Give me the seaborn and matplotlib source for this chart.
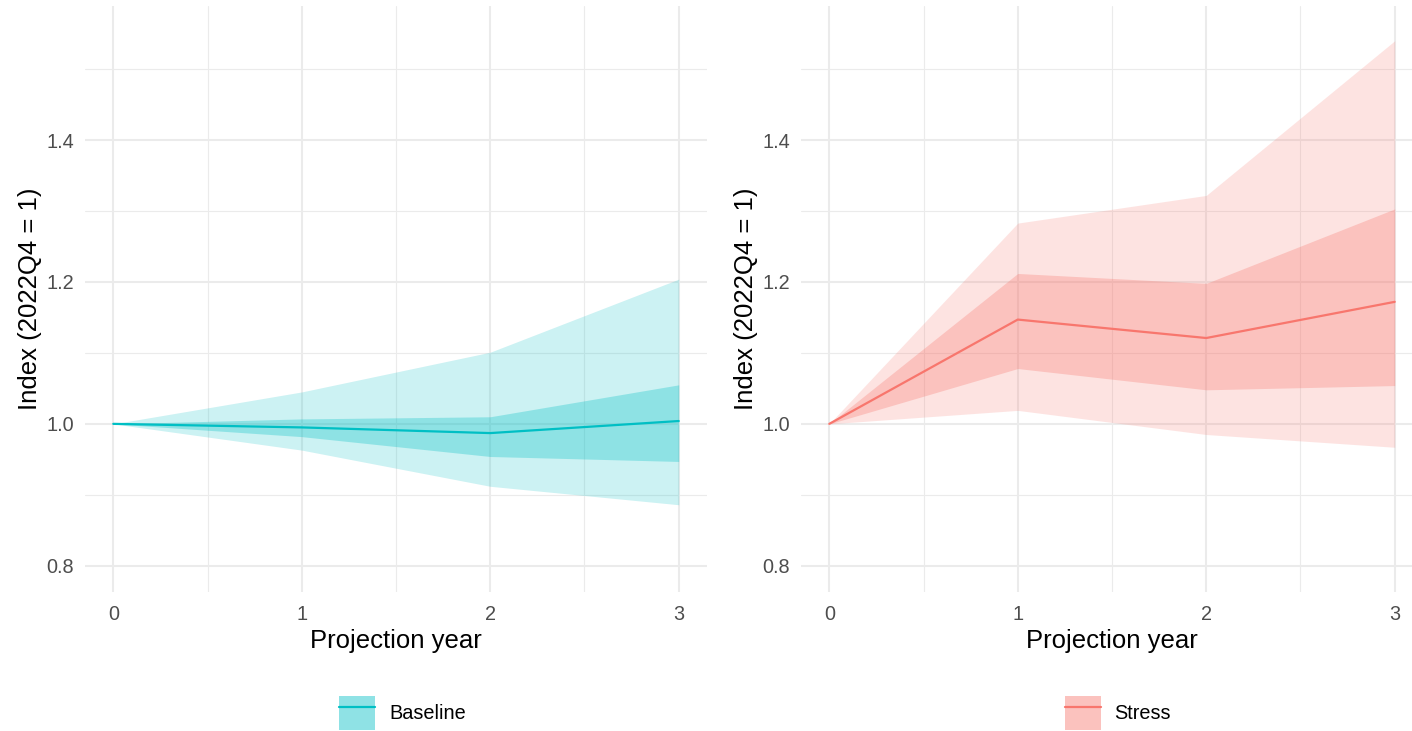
import numpy as np
import pandas as pd
import seaborn as sns
import matplotlib
matplotlib.use("Agg")
import matplotlib.pyplot as plt
from matplotlib.patches import Patch
from matplotlib.lines import Line2D
from matplotlib.legend_handler import HandlerTuple
from matplotlib.ticker import MultipleLocator

# ---- data ----
years = [0, 1, 2, 3]

baseline_median = [1.000, 0.995, 0.987, 1.004]
baseline_inner_lo = [1.000, 0.982, 0.954, 0.947]
baseline_inner_hi = [1.000, 1.007, 1.010, 1.055]
baseline_outer_lo = [1.000, 0.963, 0.912, 0.886]
baseline_outer_hi = [1.000, 1.045, 1.101, 1.204]

stress_median = [1.000, 1.147, 1.121, 1.172]
stress_inner_lo = [1.000, 1.078, 1.048, 1.054]
stress_inner_hi = [1.000, 1.212, 1.198, 1.303]
stress_outer_lo = [1.000, 1.019, 0.985, 0.967]
stress_outer_hi = [1.000, 1.283, 1.322, 1.540]

scenarios = ["Baseline", "Stress"]
colors = {"Baseline": "#00BFC4", "Stress": "#F8766D"}

x_ticks = [0, 1, 2, 3]
y_ticks = [0.8, 1.0, 1.2, 1.4]
x_label = "Projection year"
y_label = "Index (2022Q4 = 1)"

df = pd.DataFrame({
    "year": years * 2,
    "scenario": ["Baseline"] * 4 + ["Stress"] * 4,
    "median": baseline_median + stress_median,
    "inner_lo": baseline_inner_lo + stress_inner_lo,
    "inner_hi": baseline_inner_hi + stress_inner_hi,
    "outer_lo": baseline_outer_lo + stress_outer_lo,
    "outer_hi": baseline_outer_hi + stress_outer_hi,
})

# ---- style ----
sns.set_theme(style="whitegrid")
plt.rcParams["font.family"] = ["Liberation Sans", "DejaVu Sans"]

W, H = 1412, 731
fig = plt.figure(figsize=(W / 100, H / 100), dpi=100)
fig.patch.set_facecolor("white")

ax_w = 622 / W
ax_h = 586 / H
ax_b = 1 - 592 / H
lefts = [85 / W, 801 / W]
legend_x = [402.5 / W, 1118 / W]
legend_y = 1 - 713 / H

tick_fs = 14.3
title_fs = 18.5

for i, scen in enumerate(scenarios):
    ax = fig.add_axes([lefts[i], ax_b, ax_w, ax_h])
    ax.set_facecolor("white")
    d = df[df["scenario"] == scen]
    c = colors[scen]
    ax.fill_between(d["year"], d["outer_lo"], d["outer_hi"], color=c, alpha=0.2, lw=0, zorder=2)
    ax.fill_between(d["year"], d["inner_lo"], d["inner_hi"], color=c, alpha=0.3, lw=0, zorder=3)
    sns.lineplot(data=d, x="year", y="median", color=c, lw=1.6, ax=ax, zorder=4, legend=False)

    ax.set_xlim(-0.15, 3.15)
    ax.set_ylim(0.763, 1.589)
    ax.set_xticks(x_ticks)
    ax.set_xticklabels([str(t) for t in x_ticks])
    ax.set_yticks(y_ticks)
    ax.set_yticklabels([f"{t:.1f}" for t in y_ticks])
    ax.xaxis.set_minor_locator(MultipleLocator(0.5))
    ax.yaxis.set_minor_locator(MultipleLocator(0.1))
    ax.grid(which="major", color="#EBEBEB", lw=1.5)
    ax.grid(which="minor", color="#EBEBEB", lw=0.8)
    ax.set_axisbelow(True)
    for s in ax.spines.values():
        s.set_visible(False)
    ax.tick_params(axis="both", which="both", length=0, labelsize=tick_fs, labelcolor="#4D4D4D")
    ax.tick_params(axis="x", pad=9)
    ax.tick_params(axis="y", pad=8)
    ax.set_xlabel(x_label, fontsize=title_fs, color="black", labelpad=4)
    ax.set_ylabel(y_label, fontsize=title_fs, color="black", labelpad=3)

    handle = (Patch(facecolor=c, alpha=0.44, edgecolor="none"), Line2D([], [], color=c, lw=1.6))
    fig.legend([handle], [scen], loc="center", bbox_to_anchor=(legend_x[i], legend_y),
               frameon=False, fontsize=tick_fs, handlelength=1.8, handleheight=2.3,
               handletextpad=0.7, borderpad=0, borderaxespad=0, labelcolor="black",
               handler_map={tuple: HandlerTuple(ndivide=1, pad=0)})

fig.savefig("out.png", dpi=100, facecolor="white")
